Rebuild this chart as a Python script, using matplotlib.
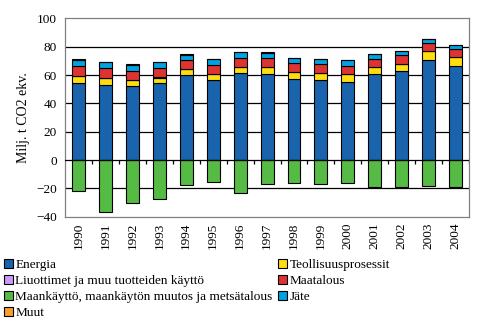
import numpy as np
import matplotlib
matplotlib.use("Agg")
import matplotlib.pyplot as plt
from matplotlib.patches import Patch

plt.rcParams['font.family'] = ['Liberation Serif', 'DejaVu Serif']

years = ['1990', '1991', '1992', '1993', '1994', '1995', '1996', '1997',
         '1998', '1999', '2000', '2001', '2002', '2003', '2004']

energia = [54.5, 53.0, 52.1, 54.2, 59.8, 56.6, 61.2, 60.8, 57.3, 56.6, 55.2, 60.8, 62.9, 70.7, 66.5]
teollisuus = [4.6, 4.7, 4.5, 4.0, 4.3, 4.2, 4.3, 5.0, 4.9, 4.9, 5.6, 5.0, 5.0, 6.4, 6.3]
liuottimet = [0.1] * 15
maatalous = [7.3, 7.3, 6.5, 6.8, 6.2, 6.3, 6.5, 6.2, 6.3, 6.3, 5.6, 5.5, 6.3, 5.5, 5.6]
maankaytto = [-21.9, -36.8, -30.4, -27.6, -17.7, -15.6, -23.3, -16.8, -16.1, -16.8, -16.1, -19.1, -19.1, -18.4, -19.1]
jate = [3.9, 4.2, 4.0, 4.2, 3.9, 4.2, 4.3, 3.6, 3.5, 3.5, 4.2, 3.6, 2.8, 2.9, 2.8]
muut = [1.0, 0.0, 0.9, 0.0, 0.9, 0.0, 0.0, 0.7, 0.0, 0.0, 0.0, 0.0, 0.0, 0.0, 0.0]

labels = ['Energia', 'Teollisuusprosessit', 'Liuottimet ja muu tuotteiden käyttö',
          'Maatalous', 'Maankäyttö, maankäytön muutos ja metsätalous', 'Jäte', 'Muut']
colors = ['#1a64ad', '#ffdd11', '#cc99ff', '#dd3333', '#55bb44', '#00a2e2', '#f7a030']

fig = plt.figure(figsize=(4.98, 3.23), dpi=100)
ax = fig.add_axes([0.1305, 0.329, 0.8115, 0.614])

x = np.arange(len(years))
w = 0.48
kw = dict(width=w, edgecolor='black', linewidth=0.8, zorder=3)
bottom = np.zeros(len(years))
for vals, col in [(energia, colors[0]), (teollisuus, colors[1]), (liuottimet, colors[2]),
                  (maatalous, colors[3]), (jate, colors[5]), (muut, colors[6])]:
    v = np.array(vals)
    ax.bar(x, v, bottom=bottom, color=col, **kw)
    bottom += v
ax.bar(x, maankaytto, color=colors[4], **kw)

ax.set_xlim(-0.5, len(years) - 0.5)
ax.set_ylim(-40, 100)
ax.set_yticks(np.arange(-40, 101, 20))
ax.tick_params(axis='y', length=0, labelsize=9.5, pad=6)
ax.set_xticks(x)
ax.set_xticklabels(years, rotation=90, fontsize=9.5)
ax.tick_params(axis='x', length=0, pad=4)

for yv in [-20, 20, 40, 60, 80]:
    ax.axhline(yv, color='black', linewidth=0.9, zorder=1)
ax.axhline(0, color='black', linewidth=0.9, zorder=4)
ax.vlines(np.arange(len(years)) + 0.5, -2.8, 0, color='black', linewidth=0.9, zorder=4)

for s in ax.spines.values():
    s.set_color('#808080')
    s.set_linewidth(0.9)

ax.set_ylabel('Milj. t CO2 ekv.', fontsize=10, labelpad=4)

order = [0, 2, 4, 6, 1, 3, 5]
handles = [Patch(facecolor=colors[i], edgecolor='black', linewidth=0.8) for i in order]
fig.legend(handles, [labels[i] for i in order], ncol=2, loc='upper left',
           bbox_to_anchor=(0.008, 0.199), frameon=False, fontsize=9.5,
           handlelength=0.65, handleheight=0.65, handletextpad=0.2,
           labelspacing=0.3, columnspacing=0.45, borderaxespad=0, borderpad=0)

fig.savefig('out.png', dpi=100)
